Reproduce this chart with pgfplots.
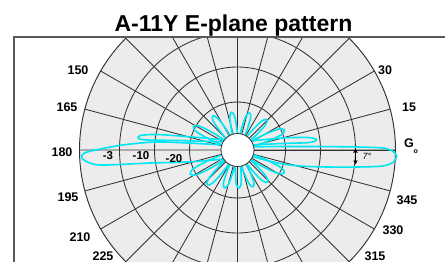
\documentclass[border=0pt]{standalone}
\usepackage{fontspec}
\setmainfont{Liberation Sans}
\usepackage{pgfplots}
\pgfplotsset{compat=1.18}
\usepgfplotslibrary{polar}
\usetikzlibrary{arrows.meta}
\definecolor{bg}{RGB}{236,236,236}
\definecolor{gridc}{RGB}{50,50,50}
\definecolor{pat}{RGB}{0,230,242}
\begin{document}
\begin{tikzpicture}[x=1pt,y=1pt]
\useasboundingbox (0,0) rectangle (445,-262);
\node[anchor=base, font=\bfseries\fontsize{23}{23}\selectfont, inner sep=0pt] at (233.5,-32) {A-11Y E-plane pattern};
\begin{scope}
\clip (14,-37) rectangle (445,-262);
\begin{polaraxis}[at={(237.5,-150)}, anchor=center, width=316pt, height=316pt, scale only axis,
  xmin=0, xmax=360, ymin=0, ymax=158,
  xtick={0,15,...,345}, ytick={48,83,118},
  xticklabels={}, yticklabels={},
  grid=major, major grid style={gridc, line width=0.85pt},
  axis line style={gridc, line width=0.95pt},
  major tick length=0pt,
  axis background/.style={fill=bg}, clip=false]
% upper side lobes (angle, radius)
\addplot[pat, line width=1.6pt, smooth, tension=0.6] coordinates {
(13,15) (16,30.6) (19,45.9) (23,51) (27,45.9) (30,30.6) (33,15)
(36,15) (39,25.2) (42,37.8) (46,42) (50,37.8) (53,25.2) (56,15)
(62,15) (65,23.4) (68,35.1) (72,39) (76,35.1) (79,23.4) (82,15)
(89,15) (92,22.8) (95,34.2) (99,38) (103,34.2) (106,22.8) (109,15)
(116,15) (119,25.2) (122,37.8) (126,42) (130,37.8) (133,25.2) (136,15)
(142,15) (145,30) (148,45) (152,50) (156,45) (159,30) (162,15)
};
% lower side lobes
\addplot[pat, line width=1.6pt, smooth, tension=0.6] coordinates {
(197,15) (200,31.8) (203,47.7) (207,53) (211,47.7) (214,31.8) (217,15)
(219,15) (222,27.6) (225,41.4) (229,46) (233,41.4) (236,27.6) (239,15)
(241,15) (244,24) (247,36) (251,40) (255,36) (258,24) (261,15)
(262,15) (265,22.8) (268,34.2) (272,38) (276,34.2) (279,22.8) (282,15)
(283,15) (286,24) (289,36) (293,40) (297,36) (300,24) (303,15)
(303.5,15) (306,26.4) (309,39.6) (313,44) (317,39.6) (320,26.4) (323,15)
(324,15) (327,31.2) (330,46.8) (334,52) (338,46.8) (341,31.2) (344,15)
};
% right main lobe (cartesian)
\addplot[data cs=cart, pat, line width=1.6pt, smooth, tension=0.5] coordinates {
(13,3) (40,3.5) (80,3.5) (120,3) (145,2) (155,-1) (159,-6) (156,-12) (145,-16) (120,-17) (90,-17) (63,-16) (40,-13) (13,-6)
};
% right near side lobe
\addplot[data cs=cart, pat, line width=1.6pt, smooth, tension=0.5] coordinates {
(13,9) (45,12) (70,12.5) (79,10.5) (72,7.5) (45,6.5) (13,5)
};
% left main lobe
\addplot[data cs=cart, pat, line width=1.6pt, smooth, tension=0.5] coordinates {
(-13,5) (-50,7) (-82,8) (-115,5) (-142,0) (-153,-3) (-156,-7) (-152,-11) (-137,-15) (-87,-13) (-50,-12) (-13,-9)
};
% left near side lobe
\addplot[data cs=cart, pat, line width=1.6pt, smooth, tension=0.5] coordinates {
(-13,10) (-45,13) (-80,15.5) (-97,14.5) (-99,11.5) (-90,10) (-60,9.5) (-13,8)
};
\draw[gridc, line width=0.8pt, fill=white] (axis cs:0,0) circle[radius=16.5pt];
\end{polaraxis}
\end{scope}
\draw[gray!70!black, line width=1.1pt] (14,-262) -- (14,-37) -- (445,-37);
% angle labels
\begin{scope}[every node/.style={font=\bfseries\fontsize{12.5}{12.5}\selectfont, inner sep=0pt}]
\node at (78,-70) {150};
\node at (385,-70) {30};
\node at (67,-107) {165};
\node at (409,-107) {15};
\node at (62,-152) {180};
\node at (68,-197) {195};
\node at (407,-200) {345};
\node at (80,-237) {210};
\node at (393,-230) {330};
\node at (103,-256.5) {225};
\node at (375,-256.5) {315};
\node at (411,-146) {G\raisebox{-0.45em}{\fontsize{7}{7}\selectfont o}};
\end{scope}
\begin{scope}[every node/.style={font=\bfseries\fontsize{11.5}{11.5}\selectfont, inner sep=0pt}]
\node at (108,-156) {-3};
\node at (141,-156) {-10};
\node at (174,-159) {-20};
\end{scope}
\draw[black, line width=1.3pt, {Latex[length=4pt,width=5pt]}-{Latex[length=4pt,width=5pt]}] (355.5,-148.5) -- (355.5,-164.5);
\node[font=\fontsize{9}{9}\selectfont\itshape, inner sep=0pt] at (367,-156) {7°};
\end{tikzpicture}
\end{document}
